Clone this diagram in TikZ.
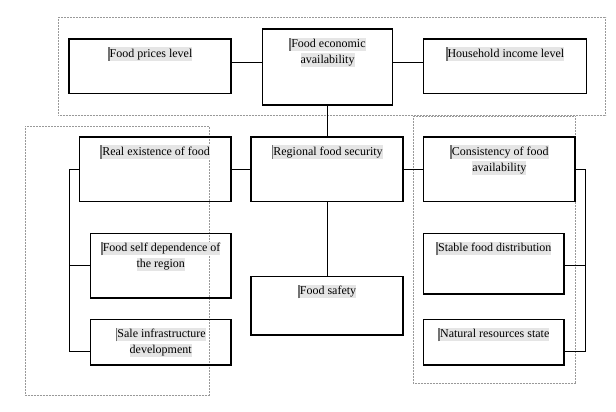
\documentclass[tikz,border=0pt]{standalone}
\usepackage{fontspec}
\setmainfont{Liberation Serif}
\definecolor{shade}{gray}{0.9}
\definecolor{barcol}{gray}{0.45}
\newcommand\hstrut{\rule[-3.4pt]{0pt}{13.4pt}}
\newcommand\hlline[1]{{\setlength{\fboxsep}{0pt}\colorbox{shade}{\hstrut#1}}}
\newcommand\hlbar{\textcolor{barcol}{\rule[-3.4pt]{1.8pt}{13.4pt}}}
\tikzset{
  box/.style={draw, line width=1.7pt, rectangle, inner sep=0pt, anchor=north west},
  conn/.style={line width=0.8pt},
  frame/.style={draw=gray!80, line width=0.5pt, densely dotted},
  lbl/.style={anchor=north, inner sep=0pt, align=center, font=\fontsize{12}{16}\selectfont}
}
\begin{document}
\begin{tikzpicture}[x=1pt,y=-1pt]
\useasboundingbox (0,0) rectangle (616,412);
% dotted frames
\draw[frame] (58.3,17.3) rectangle (605.7,115);
\draw[frame] (25.7,126) rectangle (209,395.7);
\draw[frame] (413.3,116) rectangle (575.7,383.3);
% boxes
\node[box, minimum width=162pt, minimum height=54.4pt] (prices) at (68.3,38.3) {};
\node[box, minimum width=130pt, minimum height=75.7pt] (econ) at (261.7,28.3) {};
\node[box, minimum width=163.2pt, minimum height=54.4pt] (income) at (422.5,38.3) {};
\node[box, minimum width=151.3pt, minimum height=64.7pt] (real) at (78.7,136) {};
\node[box, minimum width=152pt, minimum height=64.7pt] (regional) at (250.3,136) {};
\node[box, minimum width=151.6pt, minimum height=64.7pt] (consistency) at (422.7,136) {};
\node[box, minimum width=140.3pt, minimum height=64.6pt] (selfdep) at (89.7,232.7) {};
\node[box, minimum width=152pt, minimum height=58.3pt] (safety) at (250.3,275.7) {};
\node[box, minimum width=140.6pt, minimum height=60.3pt] (stable) at (422.7,232.7) {};
\node[box, minimum width=140.3pt, minimum height=45.3pt] (sale) at (89.7,318.7) {};
\node[box, minimum width=140.6pt, minimum height=45.3pt] (natural) at (422.7,318.7) {};
% labels
\node[lbl] (tprices) at ([yshift=-9pt]prices.north) {\hlbar\hlline{Food prices level}};
\node[lbl] (tecon) at ([yshift=-9pt]econ.north) {\hlbar\hlline{Food economic}\\\hlline{availability}};
\node[lbl] (tincome) at ([yshift=-9pt]income.north) {\hlbar\hlline{Household income level}};
\node[lbl] (treal) at ([yshift=-9pt]real.north) {\hlbar\hlline{Real existence of food}};
\node[lbl] (tregional) at ([yshift=-9pt]regional.north) {\hlbar\hlline{Regional food security}};
\node[lbl] (tcons) at ([yshift=-9pt]consistency.north) {\hlbar\hlline{Consistency of food}\\\hlline{availability}};
\node[lbl] (tself) at ([yshift=-9pt]selfdep.north) {\hlbar\hlline{Food self dependence of}\\\hlline{the region}};
\node[lbl] (tsafety) at ([yshift=-9pt]safety.north) {\hlbar\hlline{Food safety}};
\node[lbl] (tstable) at ([yshift=-9pt]stable.north) {\hlbar\hlline{Stable food distribution}};
\node[lbl] (tsale) at ([yshift=-9pt]sale.north) {\hlbar\hlline{Sale infrastructure}\\\hlline{development}};
\node[lbl] (tnatural) at ([yshift=-9pt]natural.north) {\hlbar\hlline{Natural resources state}};
% connectors
\coordinate (pe) at ([yshift=3.8pt]prices.east);
\coordinate (ie) at ([yshift=3.8pt]income.west);
\draw[conn] (pe) -- (pe -| econ.west);
\draw[conn] (ie) -- (ie -| econ.east);
\draw[conn] (econ.south) -- (econ.south |- regional.north);
\draw[conn] (regional.south) -- (regional.south |- safety.north);
\draw[conn] (real.east) -- (regional.west);
\draw[conn] (regional.east) -- (consistency.west);
% left bracket
\coordinate (lb) at (69.3,0);
\coordinate (salel) at ([yshift=-9.3pt]sale.west);
\draw[conn] (real.west) -- (real.west -| lb) -- (salel -| lb) -- (salel);
\draw[conn] (selfdep.west -| lb) -- (selfdep.west);
% right bracket
\coordinate (rb) at (585.7,0);
\coordinate (natr) at ([yshift=-9.3pt]natural.east);
\coordinate (stabr) at ([yshift=-2pt]stable.east);
\draw[conn] (consistency.east) -- (consistency.east -| rb) -- (natr -| rb) -- (natr);
\draw[conn] (stabr -| rb) -- (stabr);
\end{tikzpicture}
\end{document}
